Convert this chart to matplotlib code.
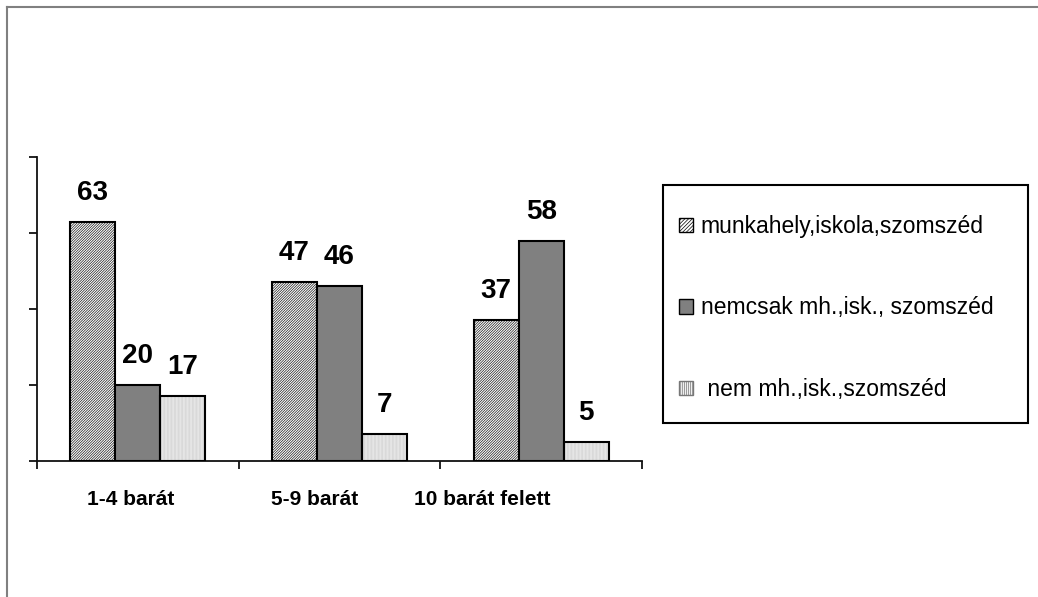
import matplotlib
matplotlib.use("Agg")
import matplotlib.pyplot as plt
from matplotlib.patches import Rectangle
from matplotlib.lines import Line2D
import numpy as np

plt.rcParams['font.family'] = ['Liberation Sans', 'DejaVu Sans']
plt.rcParams['hatch.linewidth'] = 0.5

categories = ["1-4 barát", "5-9 barát", "10 barát felett"]
series_names = ["munkahely,iskola,szomszéd",
                "nemcsak mh.,isk., szomszéd",
                " nem mh.,isk.,szomszéd"]
work_school = [63, 47, 37]
not_only = [20, 46, 58]
not_work = [17, 7, 5]
values = [work_school, not_only, not_work]

# bar styling per series: face, hatch, hatch colour
styles = [
    dict(face="white", hatch="/" * 13, hcolor="#1a1a1a"),
    dict(face="#808080", hatch=None, hcolor=None),
    dict(face="#f0f0f0", hatch="|" * 12, hcolor="#cfcfcf"),
]

W, H, DPI = 1038, 597, 100
fig = plt.figure(figsize=(W / DPI, H / DPI), dpi=DPI)

def fx(px):
    return px / W

def fy(py):
    return 1 - py / H

ax = fig.add_axes([fx(37), fy(461), fx(642) - fx(37), fy(157) - fy(461)])
ax.set_xlim(0, 3)
ax.set_ylim(0, 80)

bar_w = 0.223
x = np.arange(len(categories)) + 0.5
for i, (vals, st) in enumerate(zip(values, styles)):
    pos = x + (i - 1) * bar_w
    if st["hatch"]:
        ax.bar(pos, vals, bar_w, color=st["face"], hatch=st["hatch"],
               edgecolor=st["hcolor"], linewidth=0, zorder=2)
        ax.bar(pos, vals, bar_w, fill=False, edgecolor="black",
               linewidth=1.5, zorder=3)
    else:
        ax.bar(pos, vals, bar_w, color=st["face"], edgecolor="black",
               linewidth=1.5, zorder=3)
    for px_, v in zip(pos, vals):
        ax.annotate(str(v), (px_, v), xytext=(0, 11.5), textcoords="offset points",
                    ha="center", va="bottom", fontsize=20, fontweight="bold")

# axes: only left and bottom
for s in ("top", "right"):
    ax.spines[s].set_visible(False)
for s in ("left", "bottom"):
    ax.spines[s].set_linewidth(1.3)
    ax.spines[s].set_color("#111111")
ax.set_yticks([0, 20, 40, 60, 80])
ax.set_yticklabels([])
ax.set_xticks([0, 1, 2, 3])
ax.set_xticklabels([])
ax.tick_params(axis="both", direction="out", length=5.5, width=1.3, color="#111111")

# category labels under the groups
label_x = [0.466, 1.378, 2.206]
for lx, lab in zip(label_x, categories):
    ax.text(lx, -0.095, lab, transform=ax.get_xaxis_transform(), ha="center",
            va="top", fontsize=15, fontweight="bold")

# legend box
fig.patches.append(Rectangle((fx(663), fy(423)), fx(1028) - fx(663), fy(185) - fy(423),
                             transform=fig.transFigure, fill=False,
                             edgecolor="black", linewidth=1.5))
handles = [
    Rectangle((0, 0), 1, 1, facecolor="white", hatch="/" * 9, edgecolor="black", linewidth=1),
    Rectangle((0, 0), 1, 1, facecolor="#808080", edgecolor="black", linewidth=1),
    Rectangle((0, 0), 1, 1, facecolor="#f0f0f0", hatch="|" * 8, edgecolor="#777777", linewidth=1),
]
fig.legend(handles, series_names, loc="upper left",
           bbox_to_anchor=(fx(679), fy(215)), frameon=False, fontsize=16.5,
           handlelength=0.6, handleheight=0.6, handletextpad=0.35,
           labelspacing=2.55, borderpad=0, borderaxespad=0)

# outer frame: top and left edges
fig.add_artist(Line2D([fx(7), 1], [fy(7), fy(7)], transform=fig.transFigure,
                      color="#808080", linewidth=1.5))
fig.add_artist(Line2D([fx(7), fx(7)], [fy(7), 0], transform=fig.transFigure,
                      color="#808080", linewidth=1.5))

fig.savefig("out.png", dpi=DPI)
